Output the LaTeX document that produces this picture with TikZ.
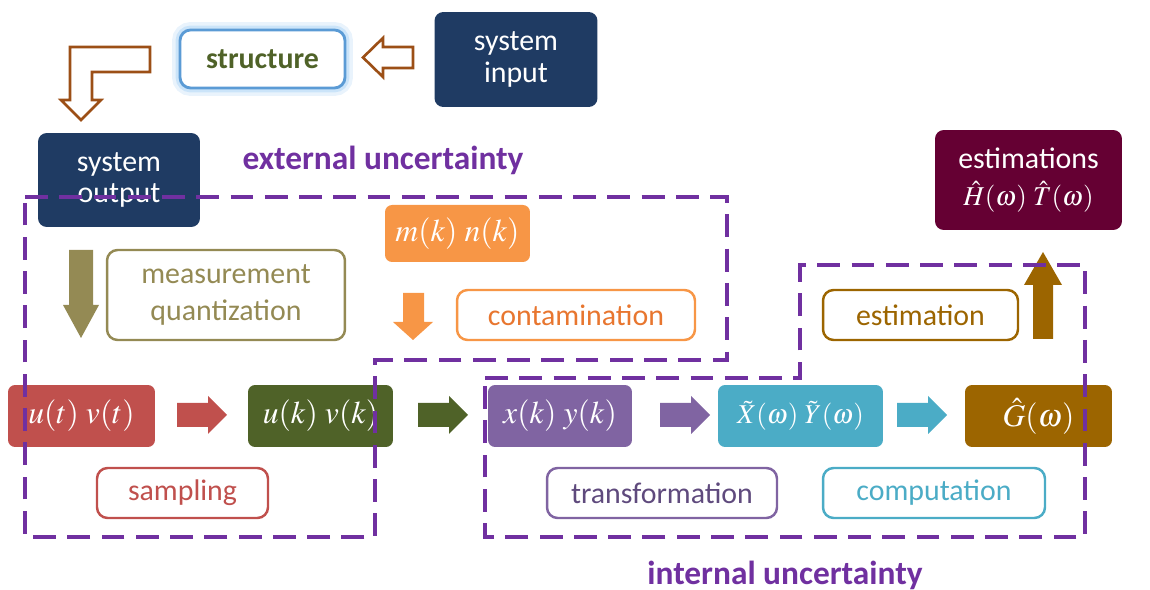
\documentclass[tikz,border=0pt]{standalone}
\usepackage{mathptmx}
\usepackage[no-math]{fontspec}
\setmainfont{Carlito}

\definecolor{navy}{HTML}{1F3B63}
\definecolor{wine}{HTML}{650033}
\definecolor{brick}{HTML}{C0504D}
\definecolor{moss}{HTML}{4F6228}
\definecolor{lilac}{HTML}{8064A2}
\definecolor{lilacdark}{HTML}{5F4A7D}
\definecolor{sea}{HTML}{4BACC6}
\definecolor{ochre}{HTML}{9C6500}
\definecolor{tangerine}{HTML}{F79646}
\definecolor{tangerinedark}{HTML}{E8762F}
\definecolor{khaki}{HTML}{948A54}
\definecolor{violet}{HTML}{7030A0}
\definecolor{rust}{HTML}{9C4F16}
\definecolor{sky}{HTML}{5B9BD5}
\definecolor{skyglow}{HTML}{BFDDF7}

\newcommand\textsz{\fontsize{17}{18}\selectfont}
\newcommand\mathsz{\fontsize{18}{21}\selectfont}
\newcommand\smallmathsz{\fontsize{15.5}{18}\selectfont}

\tikzset{
    solidbox/.style={rounded corners=4pt, fill=#1, text=white, minimum height=1.24cm, font=\mathsz},
    darkbox/.style={rounded corners=5pt, fill=#1, text=white, align=center, font=\textsz},
    labelbox/.style={rounded corners=6pt, draw=#1, line width=1.4pt, fill=white, text=#1,
        minimum height=1cm, align=center, font=\textsz},
    uncertain/.style={violet, line width=2pt, dash pattern=on 13pt off 6.5pt},
    hollowarrow/.style={draw=rust, line width=1.5pt, fill=white, line join=miter},
}

\begin{document}
\begin{tikzpicture}[x=0.02cm, y=-0.02cm]
        \useasboundingbox (0,0) rectangle (1150,590);
        % Top row: input, structure, output
        \node[darkbox=navy, minimum width=3.26cm, minimum height=1.9cm] (sysin) at (516,59.5) {system\\input};
        \node[rounded corners=6pt, draw=sky, line width=1.6pt, fill=white, text=moss,
            minimum width=3.3cm, minimum height=1.16cm, font=\textsz\bfseries,
            preaction={draw=skyglow, line width=9pt, opacity=0.35},
            preaction={draw=skyglow, line width=5pt, opacity=0.7}] (struct) at (262.5,59) {structure};
        \node[darkbox=navy, minimum width=3.24cm, minimum height=1.88cm] (sysout) at (119,180) {system\\output};
        % Hollow arrows
        \draw[hollowarrow] (413,47) -- (383,47) -- (383,38) -- (363,57.5) -- (383,77) -- (383,68) -- (413,68) -- cycle;
        \draw[hollowarrow] (150,47) -- (70,47) -- (70,100) -- (61,100) -- (81,120) -- (101,100)
            -- (92,100) -- (92,72) -- (150,72) -- cycle;
        % Uncertainty labels
        \node[text=violet, font=\fontsize{19}{20}\selectfont\bfseries] (extlabel) at (383,160) {external uncertainty};
        \node[text=violet, font=\fontsize{19}{20}\selectfont\bfseries] (intlabel) at (785,575) {internal uncertainty};
        % Noise and estimations
        \node[solidbox=tangerine, minimum width=2.9cm, minimum height=1.14cm] (noise) at (457.5,233.5) {$m(k)\ n(k)$};
        \node[darkbox=wine, minimum width=3.74cm, minimum height=2cm] (estims) at (1028.5,180)
            {estimations\\[3pt]{\smallmathsz$\hat{H}(\omega)\ \hat{T}(\omega)$}};
        % Signal chain
        \node[solidbox=brick, minimum width=2.94cm] (cont) at (81.5,416) {$u(t)\ v(t)$};
        \node[solidbox=moss, minimum width=2.9cm] (disc) at (320.5,416) {$u(k)\ v(k)$};
        \node[solidbox=lilac, minimum width=2.88cm] (noisy) at (560,416) {$x(k)\ y(k)$};
        \node[solidbox=sea, minimum width=3.3cm, font=\smallmathsz] (spec) at (800.5,416) {$\tilde{X}(\omega)\ \tilde{Y}(\omega)$};
        \node[solidbox=ochre, minimum width=2.94cm] (frf) at (1038.5,416) {$\hat{G}(\omega)$};
        % Step labels
        \node[labelbox=khaki, minimum width=4.76cm, minimum height=1.8cm] (measure) at (226,295) {measurement\\[3pt]quantization};
        \node[labelbox=tangerinedark, draw=tangerine, minimum width=4.76cm] (contam) at (576,315) {contamination};
        \node[labelbox=ochre, minimum width=3.9cm] (estim) at (920.5,315) {estimation};
        \node[labelbox=brick, minimum width=3.42cm] (sampl) at (182.5,493) {sampling};
        \node[labelbox=lilacdark, draw=lilac, minimum width=4.6cm] (transf) at (662,493) {transformation};
        \node[labelbox=sea, minimum width=4.44cm] (comput) at (934,493) {computation};
        % Block arrows along the chain
        \foreach \x/\c in {177/brick, 418/moss, 660/lilac, 897/sea} {
            \fill[\c] (\x,403) -- (\x+31,403) -- (\x+31,396) -- (\x+50,415) -- (\x+31,434) -- (\x+31,427) -- (\x,427) -- cycle;
        }
        \fill[khaki] (69,250) -- (93,250) -- (93,305) -- (99,305) -- (81,338) -- (63,305) -- (69,305) -- cycle;
        \fill[tangerine] (403,293) -- (424,293) -- (424,322) -- (433,322) -- (413,340) -- (393,322) -- (403,322) -- cycle;
        \fill[ochre] (1033,339) -- (1053,339) -- (1053,285) -- (1062,285) -- (1043,252) -- (1024,285) -- (1033,285) -- cycle;
        % Dashed regions
        \draw[uncertain] (25,197) -- (727,197) -- (727,360) -- (375,360) -- (375,537) -- (25,537) -- cycle;
        \draw[uncertain] (485,378) -- (800,378) -- (800,265) -- (1085,265) -- (1085,537) -- (485,537) -- cycle;
    \end{tikzpicture}
\end{document}
